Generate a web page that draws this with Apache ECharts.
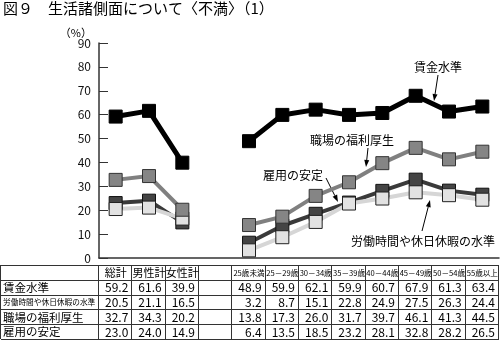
<!DOCTYPE html>
<html><head><meta charset="utf-8">
<script src="https://cdn.jsdelivr.net/npm/echarts@6/dist/echarts.min.js"></script>
<style>html,body{margin:0;padding:0;background:#fff}#c{width:500px;height:341px}</style>
</head><body><div id="c"></div>
<script>
const categories = ['総計','男性計','女性計','','25歳未満','25～29歳','30～34歳','35～39歳','40～44歳','45～49歳','50～54歳','55歳以上'];
const headerLabels = ['総計','男性計','女性計','','25歳未満','25－29歳','30－34歳','35－39歳','40－44歳','45－49歳','50－54歳','55歳以上'];
const seriesNames = ['賃金水準','労働時間や休日休暇の水準','職場の福利厚生','雇用の安定'];
const wage    = [59.2,61.6,39.9,null,48.9,59.9,62.1,59.9,60.7,67.9,61.3,63.4];
const hours   = [20.5,21.1,16.5,null,3.2,8.7,15.1,22.8,24.9,27.5,26.3,24.4];
const welfare = [32.7,34.3,20.2,null,13.8,17.3,26.0,31.7,39.7,46.1,41.3,44.5];
const employ  = [23.0,24.0,14.9,null,6.4,13.5,18.5,23.2,28.1,32.8,28.2,26.5];
const yTicks  = [0,10,20,30,40,50,60,70,80,90];
const titleText = '図９　生活諸側面について〈不満〉（1）';

const FONT = '"Noto Sans CJK JP", sans-serif';
const chart = echarts.init(document.getElementById('c'), null, {renderer:'canvas'});

function lineSeries(name, data, lineColor, lw, fill, border, z) {
  return {
    name, type:'line', data, connectNulls:false, z,
    symbol:'rect', symbolSize:13,
    lineStyle:{color:lineColor, width:lw},
    itemStyle:{color:fill, borderColor:border, borderWidth:1},
    emphasis:{disabled:true}, animation:false
  };
}

chart.setOption({
  backgroundColor:'#fff',
  animation:false,
  grid:{left:99, right:1, top:43, bottom:83},
  xAxis:{
    type:'category', data:categories, boundaryGap:true,
    axisLine:{lineStyle:{color:'#333', width:1.5}},
    axisTick:{inside:true, length:4, lineStyle:{color:'#333'}},
    axisLabel:{show:false}, splitLine:{show:false}
  },
  yAxis:{
    type:'value', min:yTicks[0], max:yTicks[yTicks.length-1], interval:10,
    axisLine:{show:true, lineStyle:{color:'#333', width:1.5}},
    axisTick:{show:true, inside:true, length:9, lineStyle:{color:'#333'}},
    axisLabel:{fontFamily:FONT, fontSize:12, color:'#111', margin:8},
    splitLine:{show:false}
  },
  series:[
    lineSeries(seriesNames[0], wage, '#000', 5, '#000', '#000', 5),
    lineSeries(seriesNames[2], welfare, '#808080', 4, '#858585', '#333', 4),
    lineSeries(seriesNames[3], employ, '#3a3a3a', 4, '#444', '#111', 3),
    lineSeries(seriesNames[1], hours, '#d6d6d6', 4, '#e2e2e2', '#222', 3)
  ]
});

// annotations & table
const g = [];
g.push({type:'text', left:3, top:1, style:{text:titleText, font:'15px '+FONT, fill:'#000'}});
g.push({type:'text', x:92, y:33, style:{text:'（%）', font:'11px '+FONT, fill:'#000', align:'right', verticalAlign:'middle'}});

function arrow(x1,y1,x2,y2){
  const dx=x2-x1, dy=y2-y1, L=Math.hypot(dx,dy), ux=dx/L, uy=dy/L;
  const hl=7, hw=2.5;
  const bx=x2-ux*hl, by=y2-uy*hl;
  g.push({type:'line', shape:{x1,y1,x2:bx,y2:by}, style:{stroke:'#000', lineWidth:1}});
  g.push({type:'polygon', shape:{points:[[x2,y2],[bx-uy*hw,by+ux*hw],[bx+uy*hw,by-ux*hw]]}, style:{fill:'#000'}});
}
function note(text,x,y){
  g.push({type:'text', x, y, style:{text, font:'12px '+FONT, fill:'#000', align:'center', verticalAlign:'middle'}});
}
note(seriesNames[0], 438, 67); arrow(438,75,434,101);
note(seriesNames[2], 352, 140); arrow(368,148,366,167);
note(seriesNames[3], 293, 175); arrow(326,178,338,202);
note(seriesNames[1], 423, 241); arrow(422,231,430,200);

// table
const rowTop = 265, rowH = 14.8, nRows = 5;
const xs = categories.map((_,i)=>chart.convertToPixel({xAxisIndex:0}, i));
const bw = (xs[1]-xs[0]);
const left = 1, labelRight = xs[0]-bw/2, right = xs[xs.length-1]+bw/2;
const tableBottom = rowTop + rowH*nRows;
const stroke = {stroke:'#333', lineWidth:1};
for (let r=0;r<=nRows;r++){
  const y = Math.round(rowTop + r*rowH)+0.5;
  g.push({type:'line', shape:{x1:left,y1:y,x2:right,y2:y}, style:stroke});
}
const vx = [left, labelRight].concat(xs.map(x=>x+bw/2));
vx.forEach(x=>{ const xx=Math.round(x)-0.5; g.push({type:'line', shape:{x1:xx,y1:rowTop,x2:xx,y2:tableBottom}, style:stroke}); });
headerLabels.forEach((t,i)=>{
  if(!t) return;
  const small = i>=4;
  g.push({type:'text', x:xs[i], y:rowTop+rowH/2+0.5, style:{text:t, font:(small?'7.6px ':'11px ')+FONT, fill:'#000', align:'center', verticalAlign:'middle'}});
});
const rows = [[seriesNames[0],wage,'11.5px'],[seriesNames[1],hours,'7.7px'],[seriesNames[2],welfare,'11.5px'],[seriesNames[3],employ,'11.5px']];
rows.forEach((row,r)=>{
  const yc = rowTop + (r+1)*rowH + rowH/2 + 0.5;
  g.push({type:'text', x:3, y:yc, style:{text:row[0], font:row[2]+' '+FONT, fill:'#000', align:'left', verticalAlign:'middle'}});
  row[1].forEach((v,i)=>{
    if(v==null) return;
    g.push({type:'text', x:xs[i]+bw/2-4, y:yc, style:{text:v.toFixed(1), font:'12px '+FONT, fill:'#000', align:'right', verticalAlign:'middle'}});
  });
});
chart.setOption({graphic:g});
</script>
</body></html>
